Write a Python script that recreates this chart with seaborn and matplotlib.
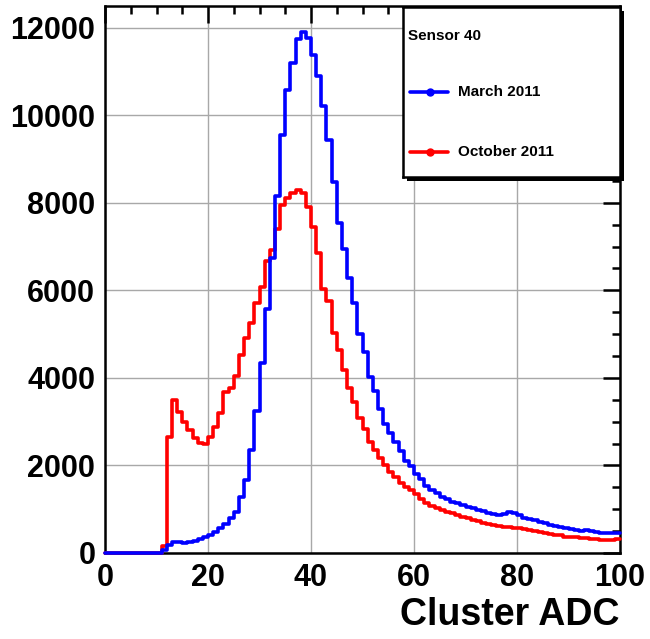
import numpy as np
import pandas as pd
import matplotlib
matplotlib.use("Agg")
import matplotlib.pyplot as plt
import seaborn as sns
from matplotlib.ticker import MultipleLocator
from matplotlib.patches import Rectangle

# Histogramme Cluster ADC, bins de largeur 1 entre 0 et 100
bin_edges = list(range(0, 101))

march_2011 = [
    0, 0, 0, 0, 0, 0, 0, 0, 0, 0,
    0, 60, 180, 240, 245, 225, 245, 275, 310, 375,
    410, 490, 560, 660, 790, 940, 1290, 1670, 2350, 3250,
    4330, 5570, 6750, 8150, 9550, 10580, 11190, 11740, 11900, 11760,
    11380, 10890, 10220, 9440, 8470, 7540, 6950, 6280, 5700, 5010,
    4590, 4030, 3700, 3300, 2950, 2750, 2540, 2340, 2100, 1980,
    1810, 1680, 1530, 1440, 1360, 1290, 1230, 1170, 1135, 1100,
    1060, 1020, 985, 960, 920, 890, 870, 890, 945, 920,
    870, 810, 770, 755, 717, 680, 640, 620, 590, 565,
    540, 525, 510, 525, 510, 490, 465, 450, 450, 465,
]

october_2011 = [
    0, 0, 0, 0, 0, 0, 0, 0, 0, 0,
    0, 150, 2650, 3500, 3230, 3000, 2800, 2620, 2520, 2500,
    2640, 2880, 3200, 3680, 3780, 4050, 4520, 4900, 5260, 5700,
    6070, 6660, 6930, 7400, 7950, 8100, 8220, 8300, 8230, 7900,
    7450, 6850, 6040, 5760, 5030, 4640, 4170, 3780, 3440, 3090,
    2830, 2530, 2350, 2160, 2000, 1840, 1740, 1610, 1500, 1430,
    1350, 1230, 1140, 1085, 1030, 985, 945, 910, 870, 830,
    795, 755, 720, 685, 665, 640, 620, 595, 590, 570,
    565, 540, 525, 500, 480, 455, 435, 415, 410, 375,
    360, 360, 335, 335, 315, 315, 300, 300, 300, 315,
]

periods = ["March 2011", "October 2011"]
colors = {"March 2011": "blue", "October 2011": "red"}

centers = np.array(bin_edges[:-1]) + 0.5
df = pd.DataFrame({
    "adc": np.concatenate([centers, centers]),
    "count": march_2011 + october_2011,
    "period": [periods[0]] * len(centers) + [periods[1]] * len(centers),
})

sns.set_style("white")
plt.rcParams["font.family"] = ["Liberation Sans", "DejaVu Sans"]
plt.rcParams["font.weight"] = "bold"
plt.rcParams["text.color"] = "black"

fig = plt.figure(figsize=(6.5, 6.39), dpi=100)
ax = fig.add_axes([105 / 650, 86 / 639, 515 / 650, 547 / 639])
ax.set_zorder(0)

sns.histplot(data=df, x="adc", weights="count", hue="period", hue_order=periods,
             bins=bin_edges, element="step", fill=False, palette=colors,
             linewidth=2.6, legend=False, ax=ax)
# les traits passent par-dessus le cadre, comme dans ROOT
for line in ax.lines:
    line.set_zorder(3)
    line.set_clip_on(False)

ax.set_xlim(0, 100)
ax.set_ylim(0, 1.05 * max(march_2011))
ax.xaxis.set_major_locator(MultipleLocator(20))
ax.xaxis.set_minor_locator(MultipleLocator(5))
ax.yaxis.set_major_locator(MultipleLocator(2000))
ax.yaxis.set_minor_locator(MultipleLocator(500))
ax.tick_params(which="both", direction="in", top=True, right=True,
               width=1.8, color="black", labelcolor="black", labelsize=22)
ax.tick_params(which="major", length=12, pad=7)
ax.tick_params(which="minor", length=6)
ax.grid(True, which="major", color="#a8a8a8", linewidth=1)
ax.set_axisbelow(True)
for sp in ax.spines.values():
    sp.set_linewidth(1.8)
    sp.set_color("black")

ax.set_ylabel("")
ax.set_xlabel("Cluster ADC", fontsize=27, fontweight="bold", color="black",
              loc="right", labelpad=3)

# Boîte de légende façon ROOT, avec ombre
lx, ly, lw, lh = 403 / 650, (639 - 177) / 639, 217 / 650, 170 / 639
shadow = Rectangle((lx + 4 / 650, ly - 4 / 639), lw, lh, transform=fig.transFigure,
                   facecolor="black", edgecolor="none", zorder=1)
fig.patches.append(shadow)
lax = fig.add_axes([lx, ly, lw, lh])
lax.set_zorder(2)
lax.set_xlim(0, 1)
lax.set_ylim(0, 1)
lax.set_xticks([])
lax.set_yticks([])
lax.set_facecolor("white")
for sp in lax.spines.values():
    sp.set_linewidth(1.8)
    sp.set_color("black")

lax.text(0.023, 0.83, "Sensor 40", fontsize=11, fontweight="bold", va="center")
for period, ypos in zip(periods, [0.5, 0.147]):
    lax.plot([0.032, 0.207], [ypos, ypos], color=colors[period], linewidth=2.6)
    lax.plot([0.124], [ypos], color=colors[period], marker="o", markersize=5)
    lax.text(0.253, ypos, period, fontsize=11, fontweight="bold", va="center")

fig.savefig("out.png", dpi=100)
